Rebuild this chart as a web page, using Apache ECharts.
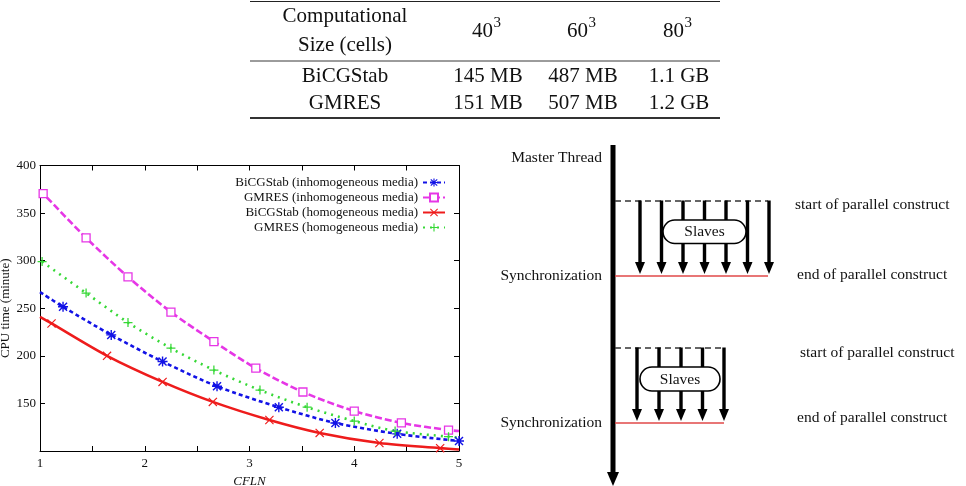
<!DOCTYPE html>
<html><head><meta charset="utf-8">
<script src="https://cdn.jsdelivr.net/npm/echarts@6/dist/echarts.min.js"></script>
<style>html,body{margin:0;padding:0;background:#fff}#c{width:966px;height:486px}</style>
</head><body><div id="c"></div>
<script>
// ---------- data ----------
const seriesNames = ['BiCGStab (inhomogeneous media)', 'GMRES (inhomogeneous media)', 'BiCGStab (homogeneous media)', 'GMRES (homogeneous media)'];
const bicgInhX = [1.22, 1.68, 2.17, 2.69, 3.28, 3.82, 4.41, 5.0];
const bicgInhY = [251.5, 222, 194, 168, 146, 129.5, 118, 110.5];
const gmresInhX = [1.03, 1.44, 1.84, 2.25, 2.66, 3.06, 3.51, 4.0, 4.45, 4.9];
const gmresInhY = [370.5, 324, 283, 246, 215, 187, 162, 142, 129.5, 122];
const bicgHomX = [1.11, 1.64, 2.17, 2.65, 3.19, 3.67, 4.24, 4.82];
const bicgHomY = [234, 200, 172.6, 151.6, 132.6, 119, 108.4, 103];
const gmresHomX = [1.02, 1.44, 1.84, 2.25, 2.66, 3.1, 3.55, 4.0, 4.39, 4.9];
const gmresHomY = [299, 266, 235, 208, 185, 164, 146, 131.5, 121, 115];
const curveStartY = [267, 374, 241, null];   // curve value at CFLN = 1 (unmarked)
const curveEndY = [null, 121, 101.5, 114];   // curve value at CFLN = 5 (unmarked)
const xTickLabels = ['1', '2', '3', '4', '5'];
const yTickLabels = ['150', '200', '250', '300', '350', '400'];

const tableHeadLabel = 'Computational\nSize (cells)';
const tableSizes = ['40', '60', '80'];
const tableSizeExp = '3';
const tableRows = ['BiCGStab', 'GMRES'];
const tableValues = [['145 MB', '487 MB', '1.1 GB'], ['151 MB', '507 MB', '1.2 GB']];

const diagramTexts = ['Master Thread', 'Synchronization', 'start of parallel construct', 'end of parallel construct', 'Slaves'];

// ---------- styles ----------
const SERIF = '"Liberation Serif", "Times New Roman", serif';
const colors = ['#1212e6', '#e636e6', '#ee1c1c', '#36d836'];
const P_PLUS = 'path://M4.3,0 L5.7,0 L5.7,10 L4.3,10 Z M0,4.3 L10,4.3 L10,5.7 L0,5.7 Z';
const P_X = 'path://M0.5,-0.5 L10.5,9.5 L9.5,10.5 L-0.5,0.5 Z M10.5,0.5 L0.5,10.5 L-0.5,9.5 L9.5,-0.5 Z';
const P_STAR = 'path://M4.3,0 L5.7,0 L5.7,10 L4.3,10 Z M0,4.3 L10,4.3 L10,5.7 L0,5.7 Z M1.5,0.5 L9.5,8.5 L8.5,9.5 L0.5,1.5 Z M9.5,1.5 L1.5,9.5 L0.5,8.5 L8.5,0.5 Z';
const symbols = [P_STAR, 'rect', P_X, P_PLUS];
const symSizes = [10, 8, 9, 9];
const dashes = [[4, 3], [7, 3], 'solid', [2, 5]];
const xs = [bicgInhX, gmresInhX, bicgHomX, gmresHomX];
const ys = [bicgInhY, gmresInhY, bicgHomY, gmresHomY];

function buildData(i) {
  const d = xs[i].map((x, k) => [x, ys[i][k]]);
  if (curveStartY[i] !== null) d.unshift({ value: [1, curveStartY[i]], symbol: 'none' });
  if (curveEndY[i] !== null) d.push({ value: [5, curveEndY[i]], symbol: 'none' });
  return d;
}

const series = seriesNames.map((name, i) => ({
  type: 'line', name, data: buildData(i), smooth: 0.3,
  symbol: symbols[i], symbolSize: symSizes[i], showAllSymbol: true,
  lineStyle: { color: colors[i], width: 2.6, type: dashes[i], cap: 'butt' },
  itemStyle: i === 1 ? { color: '#fff', borderColor: colors[i], borderWidth: 1.3 } : { color: colors[i], borderWidth: 0 },
  emphasis: { disabled: true }, animation: false, z: 3
}));

// ---------- table graphics ----------
const g = [];
const T = { font: '21px ' + SERIF, fill: '#111' };
const TS = { font: '15px ' + SERIF, fill: '#111' };
g.push({ type: 'line', shape: { x1: 250, y1: 1.5, x2: 720, y2: 1.5 }, style: { stroke: '#222', lineWidth: 1 } });
g.push({ type: 'line', shape: { x1: 250, y1: 61, x2: 720, y2: 61 }, style: { stroke: '#222', lineWidth: 0.9 } });
g.push({ type: 'line', shape: { x1: 250, y1: 118, x2: 720, y2: 118 }, style: { stroke: '#333', lineWidth: 1.8 } });
const colX = [345, 488, 583, 679];
g.push({ type: 'text', style: Object.assign({ text: tableHeadLabel, x: colX[0], y: 30.5, align: 'center', verticalAlign: 'middle', lineHeight: 29 }, T) });
tableSizes.forEach((t, j) => {
  const cx = colX[j + 1];
  g.push({ type: 'text', style: Object.assign({ text: t, x: cx + 5, y: 31, align: 'right', verticalAlign: 'middle' }, T) });
  g.push({ type: 'text', style: Object.assign({ text: tableSizeExp, x: cx + 5.5, y: 23, align: 'left', verticalAlign: 'middle' }, TS) });
});
tableRows.forEach((r, i) => {
  const y = 76 + i * 27;
  g.push({ type: 'text', style: Object.assign({ text: r, x: colX[0], y, align: 'center', verticalAlign: 'middle' }, T) });
  tableValues[i].forEach((v, j) => g.push({ type: 'text', style: Object.assign({ text: v, x: colX[j + 1], y, align: 'center', verticalAlign: 'middle' }, T) }));
});

// ---------- fork/join diagram graphics ----------
const D = { font: '15.5px ' + SERIF, fill: '#111' };
const MX = 613;
g.push({ type: 'line', shape: { x1: MX, y1: 145, x2: MX, y2: 474 }, style: { stroke: '#000', lineWidth: 5 } });
g.push({ type: 'polygon', shape: { points: [[MX - 6, 472], [MX + 6, 472], [MX, 486]] }, style: { fill: '#000' } });
g.push({ type: 'text', style: Object.assign({ text: diagramTexts[0], x: 602, y: 158, align: 'right', verticalAlign: 'middle' }, D) });

const blocks = [
  { top: 201, bot: 276, right: 768, arrows: [640, 661.5, 683, 704.5, 726, 747.5, 769], box: [663, 220, 83, 23.5], startLbl: [795, 205], endLbl: [797, 275] },
  { top: 348, bot: 423, right: 724, arrows: [637, 659, 681, 702.5, 724], box: [640, 367, 80, 24], startLbl: [800, 353], endLbl: [797, 418] }
];
blocks.forEach(b => {
  g.push({ type: 'line', shape: { x1: MX + 2, y1: b.top, x2: b.right, y2: b.top }, style: { stroke: '#333', lineWidth: 1.3, lineDash: [6, 4] } });
  g.push({ type: 'line', shape: { x1: MX + 2, y1: b.bot, x2: b.right, y2: b.bot }, style: { stroke: '#e04848', lineWidth: 1.6 } });
  b.arrows.forEach(x => {
    g.push({ type: 'line', shape: { x1: x, y1: b.top - 0.5, x2: x, y2: b.bot - 13 }, style: { stroke: '#000', lineWidth: 3.4 } });
    g.push({ type: 'polygon', shape: { points: [[x - 5, b.bot - 14], [x + 5, b.bot - 14], [x, b.bot - 2]] }, style: { fill: '#000' } });
  });
  const [bx, by, bw, bh] = b.box;
  g.push({ type: 'rect', shape: { x: bx, y: by, width: bw, height: bh, r: bh / 2 }, style: { fill: '#fff', stroke: '#000', lineWidth: 1.6 } });
  g.push({ type: 'text', style: Object.assign({ text: diagramTexts[4], x: bx + bw / 2, y: by + bh / 2 + 0.5, align: 'center', verticalAlign: 'middle' }, D) });
  g.push({ type: 'text', style: Object.assign({ text: diagramTexts[1], x: 602, y: b.bot, align: 'right', verticalAlign: 'middle' }, D) });
  g.push({ type: 'text', style: Object.assign({ text: diagramTexts[2], x: b.startLbl[0], y: b.startLbl[1], align: 'left', verticalAlign: 'middle' }, D) });
  g.push({ type: 'text', style: Object.assign({ text: diagramTexts[3], x: b.endLbl[0], y: b.endLbl[1], align: 'left', verticalAlign: 'middle' }, D) });
});

// ---------- chart ----------
const axisLine = { show: true, lineStyle: { color: '#000', width: 1 } };
const tick = { show: true, inside: true, length: 5, lineStyle: { color: '#000', width: 1 } };
const lbl = { fontFamily: SERIF, fontSize: 13, color: '#111' };

const chart = echarts.init(document.getElementById('c'), null, { renderer: 'canvas' });
chart.setOption({
  animation: false,
  backgroundColor: '#fff',
  grid: { left: 40, right: 507, top: 165.5, bottom: 35, containLabel: false, outerBoundsMode: 'none' },
  legend: {
    orient: 'vertical', right: 520, top: 176, align: 'right', data: seriesNames,
    itemWidth: 22, itemHeight: 10, itemGap: 2, padding: 0,
    textStyle: { fontFamily: SERIF, fontSize: 13, color: '#111' },
    selectedMode: false
  },
  xAxis: [
    { type: 'value', min: 1, max: 5, interval: 0.5, position: 'bottom',
      axisLine, axisTick: tick, splitLine: { show: false },
      axisLabel: Object.assign({ margin: 6, formatter: v => Number.isInteger(v) ? xTickLabels[v - 1] : '' }, lbl),
      name: 'CFLN', nameLocation: 'middle', nameGap: 16,
      nameTextStyle: { fontFamily: SERIF, fontSize: 13, fontStyle: 'italic', color: '#111' } },
    { type: 'value', min: 1, max: 5, interval: 0.5, position: 'top',
      axisLine, axisTick: tick, splitLine: { show: false }, axisLabel: { show: false } }
  ],
  yAxis: [
    { type: 'value', min: 100, max: 400, interval: 50, position: 'left',
      axisLine, axisTick: tick, splitLine: { show: false },
      axisLabel: Object.assign({ margin: 4, formatter: v => v > 100 ? yTickLabels[(v - 150) / 50] : '' }, lbl),
      name: 'CPU time (minute)', nameLocation: 'middle', nameGap: 28, nameRotate: 90,
      nameTextStyle: { fontFamily: SERIF, fontSize: 13, color: '#111' } },
    { type: 'value', min: 100, max: 400, interval: 50, position: 'right',
      axisLine, axisTick: tick, splitLine: { show: false }, axisLabel: { show: false } }
  ],
  series,
  graphic: { elements: g }
});
</script></body></html>
